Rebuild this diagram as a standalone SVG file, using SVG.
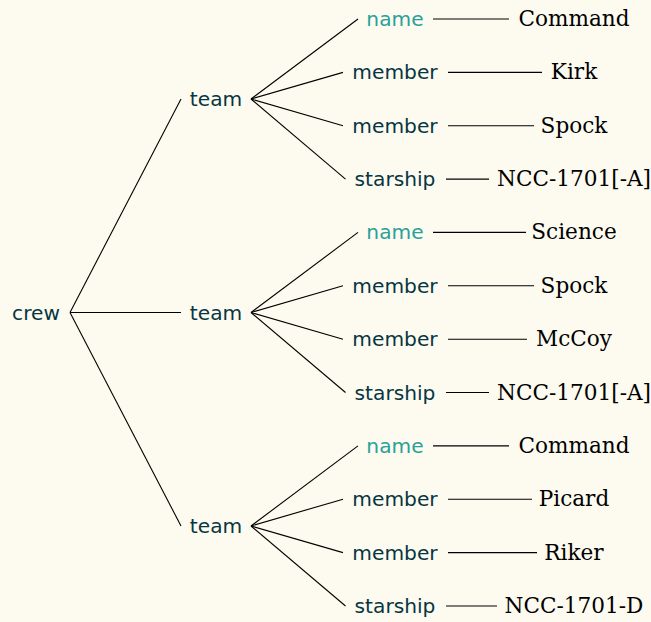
<svg xmlns="http://www.w3.org/2000/svg" width="651" height="622" viewBox="0 0 651 622">
<style>
.k{font-family:"DejaVu Sans","Verdana",sans-serif;font-size:20.2px;fill:#073642;text-anchor:middle}
.n{fill:#2aa198}
.v{font-family:"DejaVu Serif","Liberation Serif",serif;font-size:21.6px;fill:#000;text-anchor:middle}
#edges line{stroke:#000;stroke-width:1.1;fill:none}
</style>
<rect width="651" height="622" fill="#fdfbf0"/>
<g id="edges">
<line x1="70" y1="312.5" x2="181" y2="99"/>
<line x1="70" y1="312.5" x2="181" y2="312.5"/>
<line x1="70" y1="312.5" x2="181" y2="526"/>
<line x1="251" y1="99" x2="358" y2="19"/>
<line x1="251" y1="99" x2="343" y2="72.4"/>
<line x1="251" y1="99" x2="343" y2="125.7"/>
<line x1="251" y1="99" x2="345.5" y2="179.1"/>
<line x1="251" y1="312.5" x2="358" y2="232.4"/>
<line x1="251" y1="312.5" x2="343" y2="285.8"/>
<line x1="251" y1="312.5" x2="343" y2="339.2"/>
<line x1="251" y1="312.5" x2="345.5" y2="392.5"/>
<line x1="251" y1="526" x2="358" y2="445.9"/>
<line x1="251" y1="526" x2="343" y2="499.2"/>
<line x1="251" y1="526" x2="343" y2="552.6"/>
<line x1="251" y1="526" x2="345.5" y2="606"/>
<line x1="433" y1="19" x2="509" y2="19"/>
<line x1="448" y1="72.4" x2="542" y2="72.4"/>
<line x1="448" y1="125.7" x2="534" y2="125.7"/>
<line x1="446" y1="179.1" x2="489" y2="179.1"/>
<line x1="433" y1="232.4" x2="526" y2="232.4"/>
<line x1="448" y1="285.8" x2="534" y2="285.8"/>
<line x1="448" y1="339.2" x2="527" y2="339.2"/>
<line x1="446" y1="392.5" x2="489" y2="392.5"/>
<line x1="433" y1="445.9" x2="509" y2="445.9"/>
<line x1="448" y1="499.2" x2="532" y2="499.2"/>
<line x1="448" y1="552.6" x2="537" y2="552.6"/>
<line x1="446" y1="606" x2="497" y2="606"/>
</g>
<g id="crew"><text class="k" x="36" y="319.5">crew</text></g>
<g id="team1"><text class="k" x="216" y="106">team</text></g>
<g id="team2"><text class="k" x="216" y="319.5">team</text></g>
<g id="team3"><text class="k" x="216" y="533">team</text></g>
<g id="t1-name"><text class="k n" x="395" y="26">name</text></g>
<g id="t1-member1"><text class="k" x="395" y="79.4">member</text></g>
<g id="t1-member2"><text class="k" x="395" y="132.7">member</text></g>
<g id="t1-starship"><text class="k" x="395" y="186.1">starship</text></g>
<g id="t2-name"><text class="k n" x="395" y="239.4">name</text></g>
<g id="t2-member1"><text class="k" x="395" y="292.8">member</text></g>
<g id="t2-member2"><text class="k" x="395" y="346.2">member</text></g>
<g id="t2-starship"><text class="k" x="395" y="399.5">starship</text></g>
<g id="t3-name"><text class="k n" x="395" y="452.9">name</text></g>
<g id="t3-member1"><text class="k" x="395" y="506.2">member</text></g>
<g id="t3-member2"><text class="k" x="395" y="559.6">member</text></g>
<g id="t3-starship"><text class="k" x="395" y="613">starship</text></g>
<g id="v1-name"><text class="v" x="574" y="26">Command</text></g>
<g id="v1-member1"><text class="v" x="574" y="79.4">Kirk</text></g>
<g id="v1-member2"><text class="v" x="574" y="132.7">Spock</text></g>
<g id="v1-starship"><text class="v" x="574" y="186.1">NCC-1701[-A]</text></g>
<g id="v2-name"><text class="v" x="574" y="239.4">Science</text></g>
<g id="v2-member1"><text class="v" x="574" y="292.8">Spock</text></g>
<g id="v2-member2"><text class="v" x="574" y="346.2">McCoy</text></g>
<g id="v2-starship"><text class="v" x="574" y="399.5">NCC-1701[-A]</text></g>
<g id="v3-name"><text class="v" x="574" y="452.9">Command</text></g>
<g id="v3-member1"><text class="v" x="574" y="506.2">Picard</text></g>
<g id="v3-member2"><text class="v" x="574" y="559.6">Riker</text></g>
<g id="v3-starship"><text class="v" x="574" y="613">NCC-1701-D</text></g>
</svg>
